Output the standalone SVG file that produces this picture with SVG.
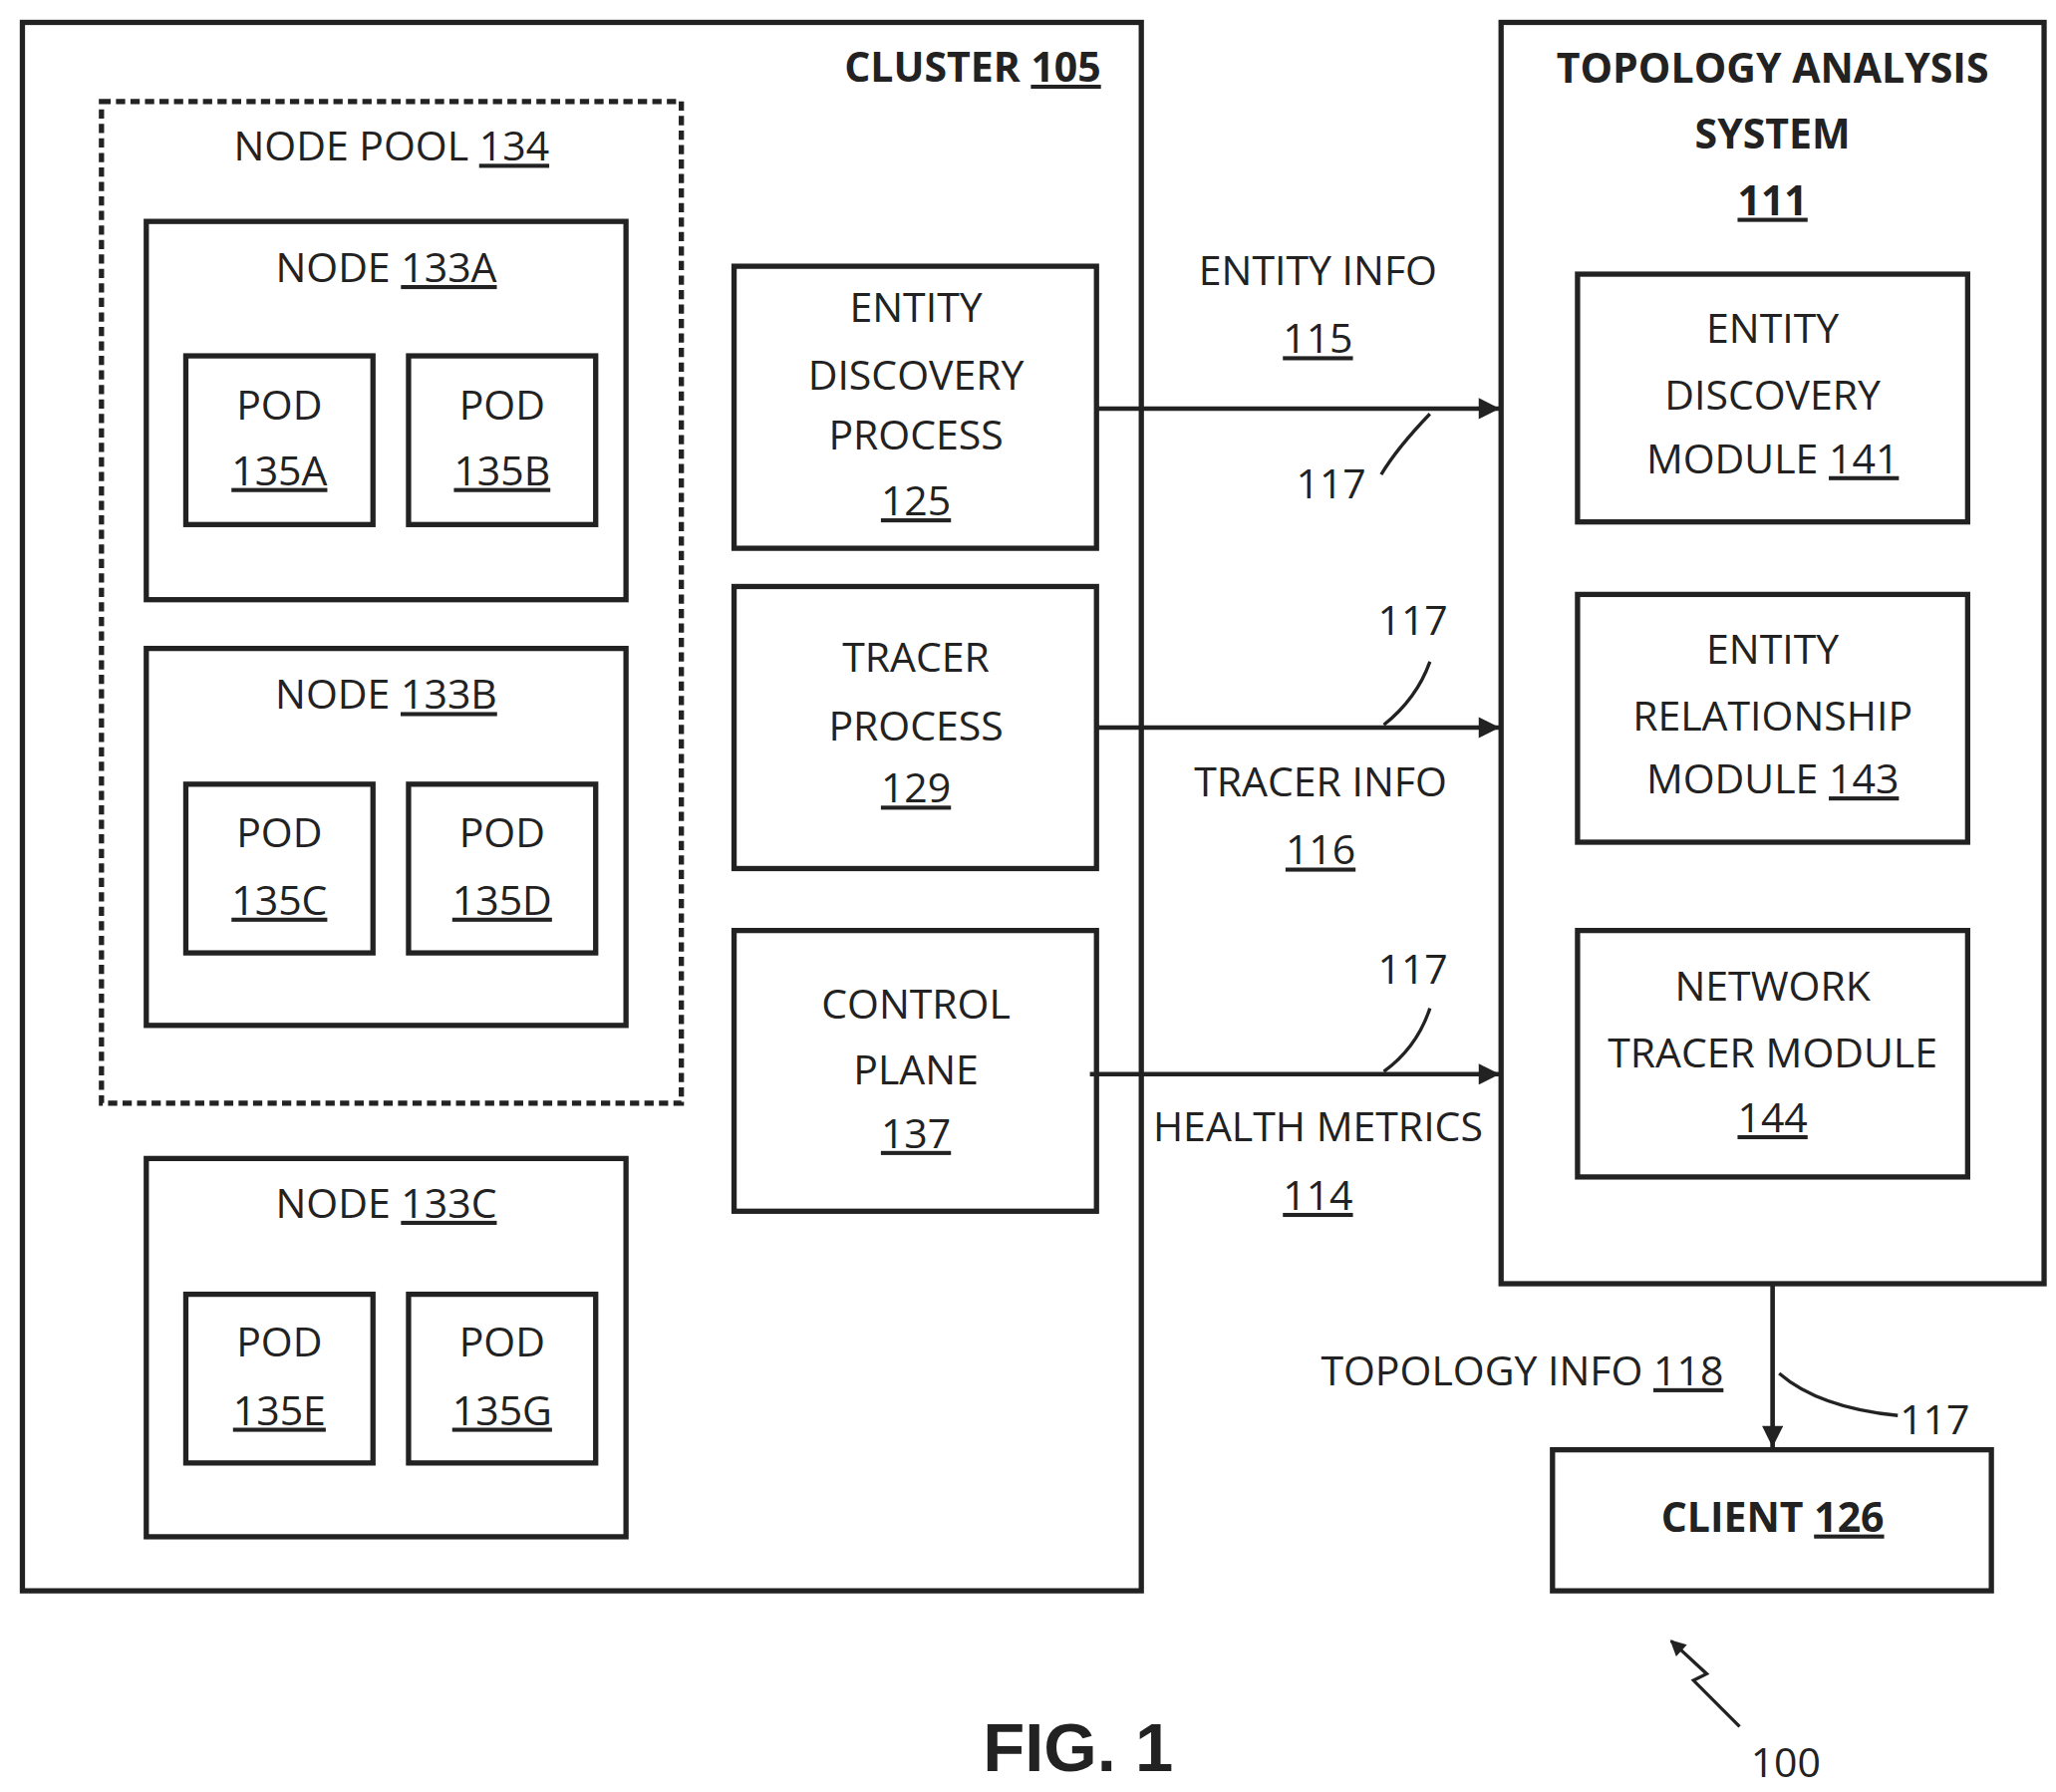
<svg xmlns="http://www.w3.org/2000/svg" width="2063" height="1798" viewBox="0 0 2063 1798">
<style>
.b{fill:none;stroke:#222;stroke-width:4}
.d{fill:none;stroke:#222;stroke-width:4;stroke-dasharray:7 4}
text{font-family:"Open Sans","Liberation Sans",sans-serif;font-size:31px;fill:#222;text-anchor:middle}
.bo{font-weight:bold}
.u{text-decoration:underline}
.c{fill:none;stroke:#222;stroke-width:2.5}
.a{fill:none;stroke:#222;stroke-width:3.5;marker-end:url(#ar)}
</style>
<defs><marker id="ar" viewBox="0 0 10 10" refX="10" refY="5" markerWidth="18" markerHeight="16" orient="auto" markerUnits="userSpaceOnUse"><path d="M0,0 L10,5 L0,10 z" fill="#222"/></marker>
<marker id="ar2" viewBox="0 0 10 10" refX="9" refY="5" markerWidth="14" markerHeight="12" orient="auto" markerUnits="userSpaceOnUse"><path d="M0,0 L10,5 L0,10 z" fill="#222"/></marker></defs>
<rect width="2063" height="1798" fill="#fff"/>
<g transform="scale(1.3224)">
<g id="cluster"><rect class="b" x="17" y="17" width="849" height="1190"/><text class="bo" x="738" y="62">CLUSTER <tspan class="u">105</tspan></text></g>
<g id="nodepool"><rect class="d" x="77" y="77" width="440" height="760"/><text x="297" y="122">NODE POOL <tspan class="u">134</tspan></text></g>
<g id="node133A"><rect class="b" x="111" y="168" width="364" height="287"/><text x="293" y="214">NODE <tspan class="u">133A</tspan></text></g>
<g id="pod135A"><rect class="b" x="141" y="270" width="142" height="128"/><text x="212" y="318">POD</text><text x="212" y="368" class="u">135A</text></g>
<g id="pod135B"><rect class="b" x="310" y="270" width="142" height="128"/><text x="381" y="318">POD</text><text x="381" y="368" class="u">135B</text></g>
<g id="node133B"><rect class="b" x="111" y="492" width="364" height="286"/><text x="293" y="538">NODE <tspan class="u">133B</tspan></text></g>
<g id="pod135C"><rect class="b" x="141" y="595" width="142" height="128"/><text x="212" y="643">POD</text><text x="212" y="694" class="u">135C</text></g>
<g id="pod135D"><rect class="b" x="310" y="595" width="142" height="128"/><text x="381" y="643">POD</text><text x="381" y="694" class="u">135D</text></g>
<g id="node133C"><rect class="b" x="111" y="879" width="364" height="287"/><text x="293" y="924">NODE <tspan class="u">133C</tspan></text></g>
<g id="pod135E"><rect class="b" x="141" y="982" width="142" height="128"/><text x="212" y="1029">POD</text><text x="212" y="1081" class="u">135E</text></g>
<g id="pod135G"><rect class="b" x="310" y="982" width="142" height="128"/><text x="381" y="1029">POD</text><text x="381" y="1081" class="u">135G</text></g>
<g id="edp"><rect class="b" x="557" y="202" width="275" height="214"/><text x="695" y="244">ENTITY</text><text x="695" y="296">DISCOVERY</text><text x="695" y="341">PROCESS</text><text x="695" y="391" class="u">125</text></g>
<g id="tp"><rect class="b" x="557" y="445" width="275" height="214"/><text x="695" y="510">TRACER</text><text x="695" y="562">PROCESS</text><text x="695" y="609" class="u">129</text></g>
<g id="cp"><rect class="b" x="557" y="706" width="275" height="213"/><text x="695" y="773">CONTROL</text><text x="695" y="823">PLANE</text><text x="695" y="871" class="u">137</text></g>
<g id="tas"><rect class="b" x="1139" y="17" width="412" height="957"/><text class="bo" x="1345" y="63">TOPOLOGY ANALYSIS</text><text class="bo" x="1345" y="113">SYSTEM</text><text class="bo u" x="1345" y="163">111</text></g>
<g id="edm"><rect class="b" x="1197" y="208" width="296" height="188"/><text x="1345" y="260">ENTITY</text><text x="1345" y="311">DISCOVERY</text><text x="1345" y="359">MODULE <tspan class="u">141</tspan></text></g>
<g id="erm"><rect class="b" x="1197" y="451" width="296" height="188"/><text x="1345" y="504">ENTITY</text><text x="1345" y="554">RELATIONSHIP</text><text x="1345" y="602">MODULE <tspan class="u">143</tspan></text></g>
<g id="ntm"><rect class="b" x="1197" y="706" width="296" height="187"/><text x="1345" y="759">NETWORK</text><text x="1345" y="810">TRACER MODULE</text><text x="1345" y="859" class="u">144</text></g>
<g id="client"><rect class="b" x="1178" y="1100" width="333" height="107"/><text class="bo" x="1345" y="1162">CLIENT <tspan class="u">126</tspan></text></g>
<g id="connectors">
<path class="a" d="M832,310 H1138"/><path class="a" d="M832,552 H1138"/><path class="a" d="M827,815 H1138"/><path class="a" d="M1345,974 V1098"/>
<path class="c" d="M1048,360 Q1060,340 1085,314"/><path class="c" d="M1085,502 Q1075,530 1050,550"/><path class="c" d="M1085,765 Q1075,795 1050,813"/><path class="c" d="M1440,1074 Q1380,1068 1350,1042"/>
<path class="c" d="M1320,1310 L1285,1275 L1295,1270 L1268,1245" marker-end="url(#ar2)"/>
</g>
<g id="labels">
<text x="1000" y="216">ENTITY  INFO</text><text x="1000" y="268" class="u">115</text>
<text x="1010" y="378">117</text><text x="1072" y="482">117</text>
<text x="1002" y="604">TRACER INFO</text><text x="1002" y="656" class="u">116</text>
<text x="1072" y="746">117</text>
<text x="1000" y="866">HEALTH METRICS</text><text x="1000" y="918" class="u">114</text>
<text x="1155" y="1051">TOPOLOGY INFO <tspan class="u">118</tspan></text>
<text x="1468" y="1088">117</text>
<text class="bo" x="818" y="1344" style="font-size:52px;font-family:'Liberation Sans',sans-serif">FIG. 1</text>
<text x="1355" y="1348">100</text>
</g>
</g>
</svg>
